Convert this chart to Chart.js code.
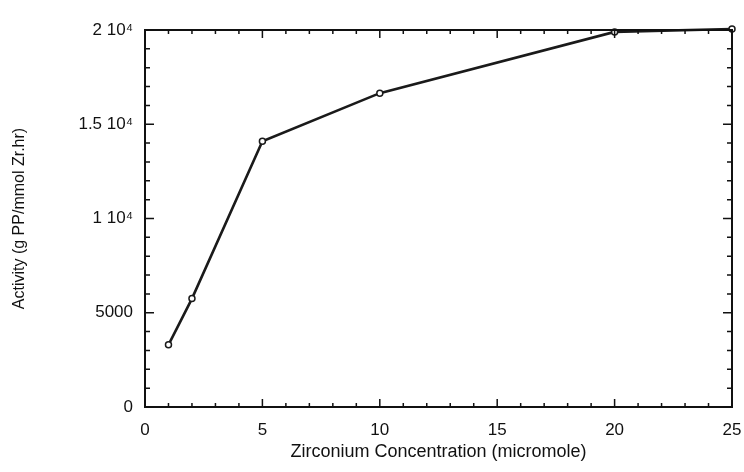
<!DOCTYPE html>
<html>
<head>
<meta charset="utf-8">
<script src="https://cdn.jsdelivr.net/npm/chart.js@4/dist/chart.umd.min.js"></script>
<style>
  html, body { margin: 0; padding: 0; background: #fff; }
  #wrap { width: 744px; height: 472px; }
</style>
</head>
<body>
<div id="wrap"><canvas id="c"></canvas></div>
<script>
const concentrations = [1, 2, 5, 10, 20, 25];
const activity = [3300, 5750, 14100, 16650, 19900, 20050];
const yTickLabels = { 0: '0', 5000: '5000', 10000: '1 10\u2074', 15000: '1.5 10\u2074', 20000: '2 10\u2074' };

// inward ticks on all four sides plus the box
const frameTicks = {
  id: 'frameTicks',
  afterDatasetsDraw(chart) {
    const { ctx, chartArea: a, scales: { x, y } } = chart;
    ctx.save();
    ctx.strokeStyle = '#111';
    ctx.lineWidth = 2;
    ctx.strokeRect(a.left, a.top, a.right - a.left, a.bottom - a.top);
    ctx.lineWidth = 1.5;
    ctx.beginPath();
    for (let v = 0; v <= 25; v++) {
      const px = x.getPixelForValue(v);
      const len = v % 5 === 0 ? 8 : 4;
      ctx.moveTo(px, a.bottom); ctx.lineTo(px, a.bottom - len);
      ctx.moveTo(px, a.top); ctx.lineTo(px, a.top + len);
    }
    for (let v = 0; v <= 20000; v += 1000) {
      const py = y.getPixelForValue(v);
      const len = v % 5000 === 0 ? 9 : 5;
      ctx.moveTo(a.left, py); ctx.lineTo(a.left + len, py);
      ctx.moveTo(a.right, py); ctx.lineTo(a.right - len, py);
    }
    ctx.stroke();
    ctx.restore();
  }
};

new Chart(document.getElementById('c'), {
  type: 'line',
  data: {
    datasets: [{
      data: concentrations.map((c, i) => ({ x: c, y: activity[i] })),
      borderColor: '#1a1a1a',
      borderWidth: 2.6,
      pointRadius: 3,
      pointBorderWidth: 1.5,
      pointBackgroundColor: '#fff',
      pointBorderColor: '#1a1a1a',
      tension: 0,
      clip: false
    }]
  },
  options: {
    responsive: true,
    maintainAspectRatio: false,
    animation: false,
    layout: { padding: { top: 30, right: 12, left: 6, bottom: 0 } },
    plugins: { legend: { display: false }, tooltip: { enabled: false } },
    scales: {
      x: {
        type: 'linear',
        min: 0,
        max: 25,
        grid: { display: false, drawTicks: false },
        border: { display: false },
        ticks: { stepSize: 5, padding: 13, color: '#111', font: { family: 'Liberation Sans', size: 17 } },
        title: {
          display: true,
          text: 'Zirconium Concentration (micromole)',
          color: '#111',
          font: { family: 'Liberation Sans', size: 18 },
          padding: { top: 0, bottom: 9 }
        },
        afterFit(scale) {
          scale.height = 65;
          scale.paddingLeft = 0;
          scale.paddingRight = 0;
        }
      },
      y: {
        min: 0,
        max: 20000,
        grid: { display: false, drawTicks: false },
        border: { display: false },
        ticks: {
          stepSize: 5000,
          padding: 12,
          color: '#111',
          font: { family: 'Liberation Sans', size: 17 },
          callback: v => yTickLabels[v] ?? ''
        },
        title: {
          display: true,
          text: 'Activity (g PP/mmol Zr.hr)',
          color: '#111',
          font: { family: 'Liberation Sans', size: 16 },
          padding: { bottom: 4 }
        },
        afterFit(scale) {
          scale.width = 139;
          scale.paddingTop = 0;
          scale.paddingBottom = 0;
        }
      }
    }
  },
  plugins: [frameTicks]
});
</script>
</body>
</html>
